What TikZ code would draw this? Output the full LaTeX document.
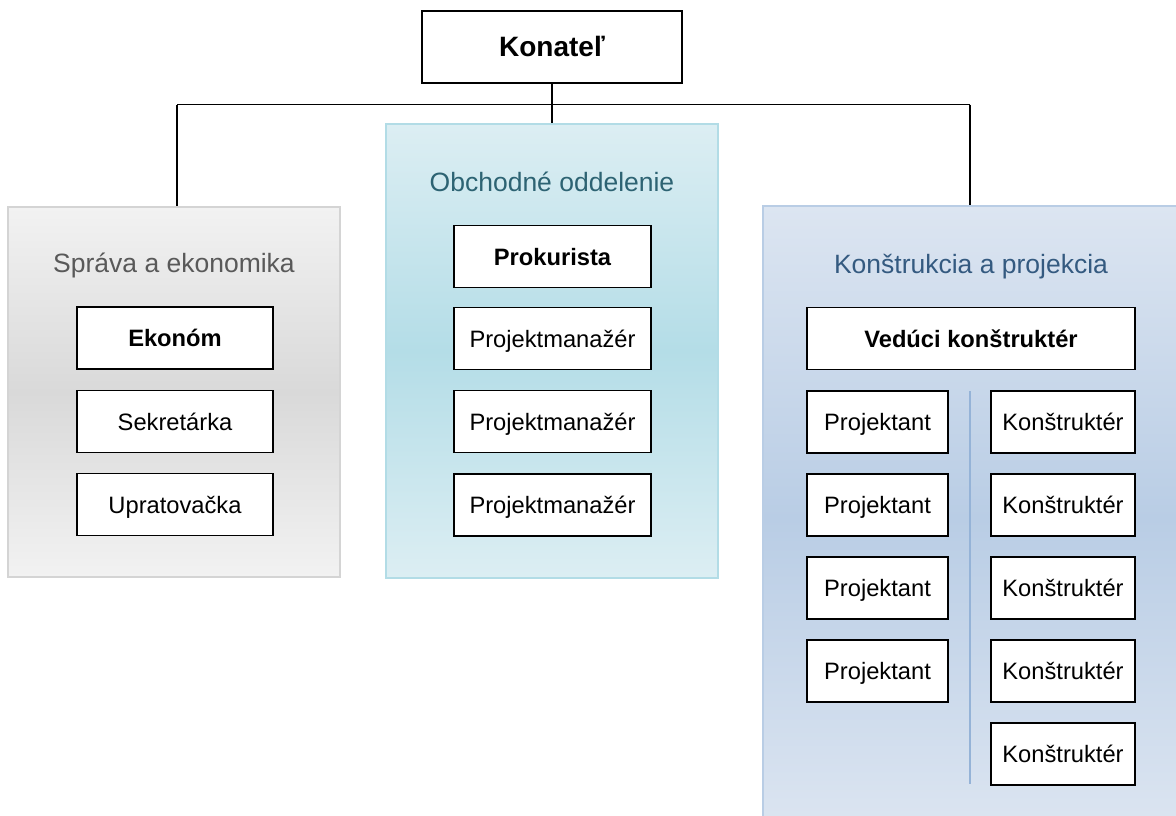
\documentclass[tikz,border=0pt]{standalone}
\usepackage{fontspec}
\setmainfont{Liberation Sans}
\definecolor{grayTop}{HTML}{F2F2F2}
\definecolor{grayMid}{HTML}{D9D9D9}
\definecolor{grayEdge}{HTML}{D4D4D4}
\definecolor{grayText}{HTML}{595959}
\definecolor{cyanTop}{HTML}{DCEEF3}
\definecolor{cyanMid}{HTML}{B4DDE7}
\definecolor{cyanEdge}{HTML}{B2DCE6}
\definecolor{cyanText}{HTML}{2D6373}
\definecolor{blueTop}{HTML}{DCE5F1}
\definecolor{blueMid}{HTML}{B9CDE5}
\definecolor{blueEdge}{HTML}{B9CDE5}
\definecolor{blueText}{HTML}{345A80}
\definecolor{sepLine}{HTML}{95B3D7}
\tikzset{
  panel/.style={draw, line width=1.2pt, inner sep=0pt},
  box/.style={draw=black, line width=1.6pt, fill=white, inner sep=0pt,
    minimum height=62pt, text height=17pt, text depth=0pt,
    font=\fontsize{23.7}{28}\selectfont},
  bbox/.style={box, font=\fontsize{23.7}{28}\selectfont\bfseries},
  head/.style={font=\fontsize{26.5}{31}\selectfont, inner sep=0pt, text height=19pt, text depth=0pt},
  conn/.style={draw=black, line width=1.5pt}
}
\begin{document}
\begin{tikzpicture}[x=1pt,y=-1pt]
\useasboundingbox (0,0) rectangle (1176,816);
\clip (0,0) rectangle (1176,816);
% panels
\node[panel, draw=grayEdge, top color=grayTop, bottom color=grayTop, middle color=grayMid,
  minimum width=332pt, minimum height=370pt] (left) at (174,392) {};
\node[panel, draw=cyanEdge, top color=cyanTop, bottom color=cyanTop, middle color=cyanMid,
  minimum width=332pt, minimum height=454pt] (mid) at (552,351) {};
\node[panel, draw=blueEdge, top color=blueTop, bottom color=blueTop, middle color=blueMid,
  minimum width=427pt, minimum height=624pt] (right) at (976.5,518) {};
% boss
\node[box, font=\fontsize{28}{32}\selectfont\bfseries, text height=20pt, minimum width=260pt, minimum height=72pt] (boss) at (552,47) {Konateľ};
% connectors
\coordinate (lt) at (177,104.5);
\coordinate (rt) at (970,104.5);
\draw[conn] (lt) -- (rt);
\draw[conn] (boss.south) -- (mid.north);
\draw[conn] (lt) -- (lt |- left.north);
\draw[conn] (rt) -- (rt |- right.north);
% headers
\node[head, text=grayText] (lh) at (174,263) {Správa a ekonomika};
\node[head, text=cyanText] (mh) at (552,182) {Obchodné oddelenie};
\node[head, text=blueText] (rh) at (971,264) {Konštrukcia a projekcia};
% left boxes
\node[bbox, minimum width=196pt] (ek) at (175,338) {Ekonóm};
\node[box, minimum width=196pt] (se) at (175,421.5) {Sekretárka};
\node[box, minimum width=196pt] (up) at (175,504.5) {Upratovačka};
% middle boxes
\node[bbox, minimum width=197pt] (pr) at (552.5,256.5) {Prokurista};
\node[box, minimum width=197pt] (pm1) at (552.5,338.5) {Projektmanažér};
\node[box, minimum width=197pt] (pm2) at (552.5,421.5) {Projektmanažér};
\node[box, minimum width=197pt] (pm3) at (552.5,505) {Projektmanažér};
% right boxes
\node[bbox, minimum width=328pt] (vk) at (971,338.5) {Vedúci konštruktér};
\foreach \i/\y in {1/422,2/505,3/588,4/671}{
  \node[box, minimum width=141pt] (p\i) at (877.5,\y) {Projektant};
}
\foreach \i/\y in {1/422,2/505,3/588,4/671,5/754}{
  \node[box, minimum width=144pt] (k\i) at (1063,\y) {Konštruktér};
}
\coordinate (st) at (970,391);
\coordinate (sb) at (970,784);
\draw[draw=sepLine, line width=1.5pt] (st) -- (sb);
\end{tikzpicture}
\end{document}
